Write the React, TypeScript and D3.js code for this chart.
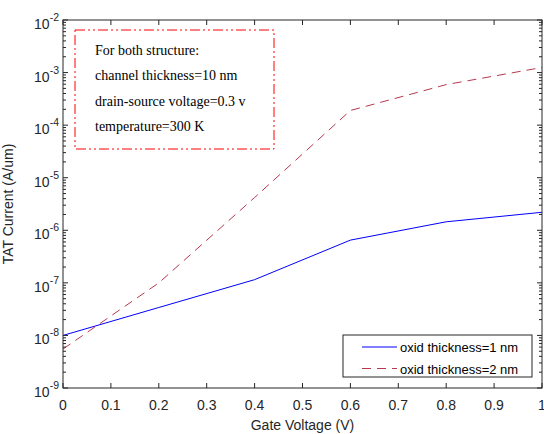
import React from "react";
import * as d3 from "d3";

const gateVoltage = [0, 0.2, 0.4, 0.6, 0.8, 1.0];
const oxid1nm = [1.0e-8, 3.4e-8, 1.15e-7, 6.5e-7, 1.45e-6, 2.2e-6];
const oxid2nm = [5.5e-9, 1.0e-7, 4.2e-6, 1.9e-4, 5.9e-4, 1.25e-3];

const xTickValues = [0, 0.1, 0.2, 0.3, 0.4, 0.5, 0.6, 0.7, 0.8, 0.9, 1];
const yExponents = [-9, -8, -7, -6, -5, -4, -3, -2];

const noteLines = [
  "For both structure:",
  "channel thickness=10 nm",
  "drain-source voltage=0.3 v",
  "temperature=300 K",
];
const legendLabels = ["oxid thickness=1 nm", "oxid thickness=2 nm"];

export default function App() {
  const width = 544;
  const height = 434;
  const margin = { top: 20, right: 2, bottom: 46, left: 63 };
  const x0 = margin.left;
  const x1 = width - margin.right;
  const y0 = height - margin.bottom;
  const y1 = margin.top;

  const x = d3.scaleLinear().domain([0, 1]).range([x0, x1]);
  const y = d3.scaleLog().domain([1e-9, 1e-2]).range([y0, y1]);

  const line = d3
    .line<number>()
    .x((_, i) => x(gateVoltage[i]))
    .y((d) => y(d));

  const minor: number[] = [];
  for (let e = -9; e < -2; e++) {
    for (let m = 2; m <= 9; m++) minor.push(m * 10 ** e);
  }

  const axisColor = "#262626";
  const font = "Helvetica, Arial, 'Liberation Sans', sans-serif";
  const serif = "'Liberation Serif', 'Times New Roman', serif";
  const redDash = "#b8384f";

  return (
    <svg width={width} height={height} style={{ position: "absolute", left: 0, top: 0, background: "#fff" }}>
      <rect x={0} y={0} width={width} height={height} fill="#fff" />

      {/* series */}
      <path d={line(oxid1nm) || ""} fill="none" stroke="#0000ff" strokeWidth={1} />
      <path d={line(oxid2nm) || ""} fill="none" stroke={redDash} strokeWidth={1} strokeDasharray="9,6" />

      {/* box */}
      <rect x={x0} y={y1} width={x1 - x0} height={y0 - y1} fill="none" stroke={axisColor} strokeWidth={1} />

      {/* x ticks */}
      {xTickValues.map((t) => (
        <g key={t}>
          <line x1={x(t)} x2={x(t)} y1={y0} y2={y0 - 5} stroke={axisColor} />
          <line x1={x(t)} x2={x(t)} y1={y1} y2={y1 + 5} stroke={axisColor} />
          <text x={x(t)} y={y0 + 22} textAnchor="middle" fontSize={14} fontFamily={font} fill={axisColor}>
            {t}
          </text>
        </g>
      ))}

      {/* y ticks */}
      {yExponents.map((e) => (
        <g key={e}>
          <line x1={x0} x2={x0 + 5} y1={y(10 ** e)} y2={y(10 ** e)} stroke={axisColor} />
          <line x1={x1} x2={x1 - 5} y1={y(10 ** e)} y2={y(10 ** e)} stroke={axisColor} />
          <text x={x0 - 4} y={y(10 ** e) + 9} textAnchor="end" fontSize={14} fontFamily={font} fill={axisColor}>
            10
            <tspan dy={-8} fontSize={10.5}>
              {e}
            </tspan>
          </text>
        </g>
      ))}
      {minor.map((v, i) => (
        <g key={i}>
          <line x1={x0} x2={x0 + 3} y1={y(v)} y2={y(v)} stroke={axisColor} />
          <line x1={x1} x2={x1 - 3} y1={y(v)} y2={y(v)} stroke={axisColor} />
        </g>
      ))}

      {/* axis titles */}
      <text x={(x0 + x1) / 2} y={y0 + 42} textAnchor="middle" fontSize={14} fontFamily={font} fill={axisColor}>
        Gate Voltage (V)
      </text>
      <text
        transform={`translate(13 ${(y0 + y1) / 2}) rotate(-90)`}
        textAnchor="middle"
        fontSize={14}
        fontFamily={font}
        fill={axisColor}
      >
        TAT Current (A/um)
      </text>

      {/* annotation box */}
      <rect x={75} y={30} width={199} height={119} fill="#fff" stroke="#ff0000" strokeWidth={1} strokeDasharray="10,3,2,3,2,3" />
      {noteLines.map((s, i) => (
        <text key={s} x={95} y={55 + i * 25.3} fontSize={14} fontFamily={serif} fill="#000">
          {s}
        </text>
      ))}

      {/* legend */}
      <rect x={343} y={335} width={189} height={42} fill="#fff" stroke={axisColor} strokeWidth={1} />
      {legendLabels.map((s, i) => (
        <g key={s}>
          <line
            x1={362}
            x2={397}
            y1={347 + i * 21.5}
            y2={347 + i * 21.5}
            stroke={i === 0 ? "#0000ff" : redDash}
            strokeDasharray={i === 0 ? undefined : "9,6"}
          />
          <text x={400} y={352 + i * 21.5} fontSize={13} fontFamily={font} fill="#000">
            {s}
          </text>
        </g>
      ))}
    </svg>
  );
}
